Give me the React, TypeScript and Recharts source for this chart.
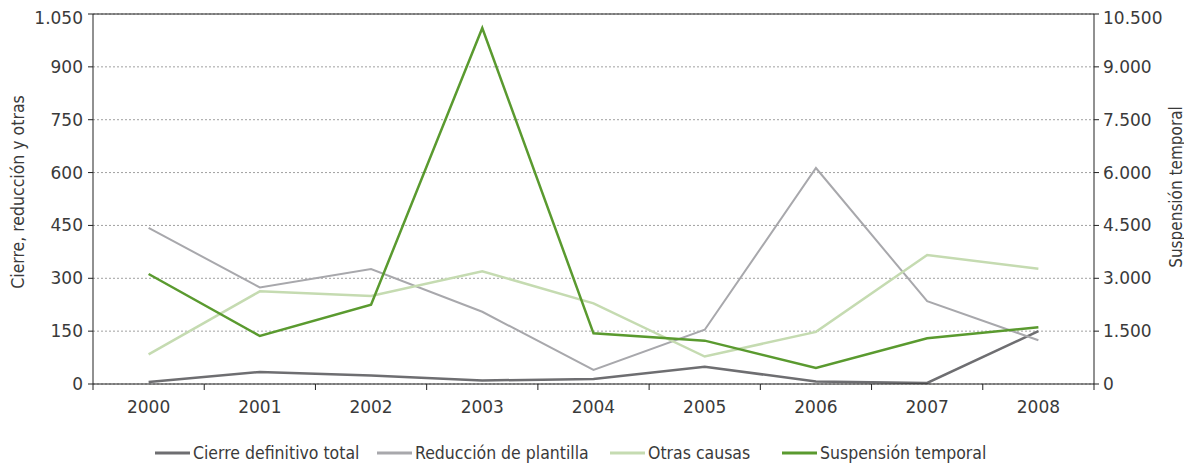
import React from "react";
import {
  LineChart,
  Line,
  XAxis,
  YAxis,
  CartesianGrid,
  ReferenceLine,
} from "recharts";

const years = ["2000", "2001", "2002", "2003", "2004", "2005", "2006", "2007", "2008"];
const cierreTotal = [6, 34, 24, 10, 14, 49, 7, 3, 150];
const reduccionPlantilla = [443, 274, 326, 205, 40, 154, 613, 235, 124];
const otrasCausas = [84, 263, 250, 320, 229, 78, 148, 366, 327];
const suspensionTemporal = [3122, 1362, 2250, 10103, 1438, 1230, 454, 1296, 1608];
const leftTicks = [0, 150, 300, 450, 600, 750, 900, 1050];
const rightTicks = [0, 1500, 3000, 4500, 6000, 7500, 9000, 10500];

const series = [
  { key: "cierre", name: "Cierre definitivo total", color: "#6e6e71", axis: "left", width: 2.5 },
  { key: "reduccion", name: "Reducción de plantilla", color: "#a8a8ac", axis: "left", width: 2 },
  { key: "otras", name: "Otras causas", color: "#c5dbb1", axis: "left", width: 2.5 },
  { key: "suspension", name: "Suspensión temporal", color: "#5a9a2f", axis: "right", width: 2.5 },
];

const data = years.map((year, i) => ({
  year,
  cierre: cierreTotal[i],
  reduccion: reduccionPlantilla[i],
  otras: otrasCausas[i],
  suspension: suspensionTemporal[i],
}));

const fmt = (v: number) => String(v).replace(/\B(?=(\d{3})+(?!\d))/g, ".");

const FONT = "'DejaVu Sans', sans-serif";
const COND = "'DejaVu Sans Condensed', 'DejaVu Sans', sans-serif";
const TEXT = "#3a3a3a";
const BAND = 1001 / years.length;

const XTick = (props: any) => {
  const { x, y, payload, index } = props;
  const half = BAND / 2;
  return (
    <g>
      <line x1={x - half} x2={x - half} y1={y} y2={y + 6} stroke="#222" />
      {index === years.length - 1 && (
        <line x1={x + half} x2={x + half} y1={y} y2={y + 6} stroke="#222" />
      )}
      <text x={x} y={y + 29} textAnchor="middle" fill={TEXT} fontSize={17} fontFamily={FONT}>
        {payload.value}
      </text>
    </g>
  );
};

const legendLeft = [147, 369, 602, 774];

export default function App() {
  return (
    <div style={{ position: "relative", width: 1176, height: 460, fontFamily: FONT }}>
      <LineChart
        width={1176}
        height={416}
        data={data}
        margin={{ top: 6, right: 0, bottom: 0, left: 0 }}
      >
        <CartesianGrid
          yAxisId="left"
          vertical={false}
          stroke="#a0a0a0"
          strokeDasharray="2 2"
        />
        <XAxis
          dataKey="year"
          scale="band"
          interval={0}
          height={40}
          tickSize={0}
          tickMargin={0}
          tickLine={false}
          axisLine={{ stroke: "#222" }}
          tick={<XTick />}
        />
        <YAxis
          yAxisId="left"
          width={85}
          domain={[0, 1050]}
          ticks={leftTicks}
          tickFormatter={fmt}
          tickSize={5}
          tickMargin={5}
          axisLine={{ stroke: "#222" }}
          tickLine={{ stroke: "#222" }}
          tick={{ fill: TEXT, fontSize: 17, fontFamily: FONT }}
        />
        <YAxis
          yAxisId="right"
          orientation="right"
          width={90}
          domain={[0, 10500]}
          ticks={rightTicks}
          tickFormatter={fmt}
          tickSize={5}
          tickMargin={4}
          axisLine={{ stroke: "#222" }}
          tickLine={{ stroke: "#222" }}
          tick={{ fill: TEXT, fontSize: 17, fontFamily: FONT }}
        />
        <ReferenceLine yAxisId="left" y={1050} stroke="#222" />
        {series.map((s) => (
          <Line
            key={s.key}
            yAxisId={s.axis}
            dataKey={s.key}
            name={s.name}
            stroke={s.color}
            strokeWidth={s.width}
            dot={false}
            activeDot={false}
            isAnimationActive={false}
          />
        ))}
      </LineChart>

      <div
        style={{
          position: "absolute",
          left: 10,
          top: 184,
          transform: "translate(-50%, -50%) rotate(-90deg)",
          whiteSpace: "nowrap",
          fontSize: 17.5,
          fontFamily: COND,
          color: TEXT,
        }}
      >
        Cierre, reducción y otras
      </div>
      <div
        style={{
          position: "absolute",
          left: 1168,
          top: 179,
          transform: "translate(-50%, -50%) rotate(-90deg)",
          whiteSpace: "nowrap",
          fontSize: 17,
          fontFamily: COND,
          color: TEXT,
        }}
      >
        Suspensión temporal
      </div>

      {series.map((s, i) => (
        <div
          key={s.key}
          style={{
            position: "absolute",
            left: legendLeft[i],
            top: 434,
            height: 22,
            display: "flex",
            alignItems: "center",
            whiteSpace: "nowrap",
            fontSize: 17.5,
            lineHeight: "22px",
            fontFamily: COND,
            color: TEXT,
          }}
        >
          <svg width={35} height={4}>
            <line x1={0} x2={35} y1={2} y2={2} stroke={s.color} strokeWidth={3} />
          </svg>
          <span style={{ marginLeft: 3 }}>{s.name}</span>
        </div>
      ))}
    </div>
  );
}
